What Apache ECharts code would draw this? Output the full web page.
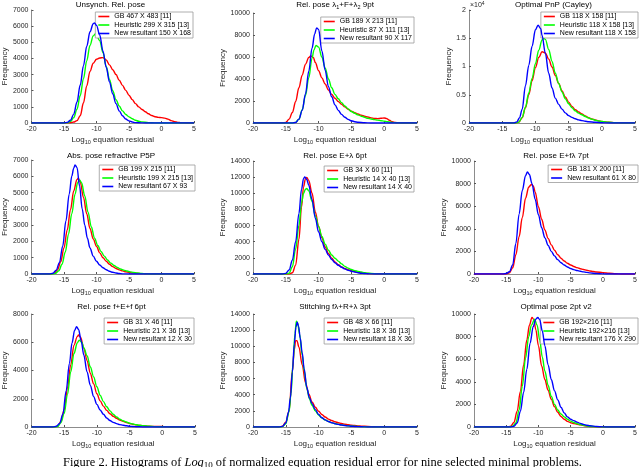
<!DOCTYPE html>
<html>
<head>
<meta charset="utf-8">
<script src="https://cdn.jsdelivr.net/npm/echarts@6/dist/echarts.min.js"></script>
<style>html,body{margin:0;padding:0;background:#fff;}#c{width:640px;height:467px;}</style>
</head>
<body>
<div id="c"></div>
<script>
// ---------- DATA ----------
const xTickValues = [-20, -15, -10, -5, 0, 5];
const plotTitles = [
  '{t|Unsynch. Rel. pose}',
  '{t|Rel. pose λ}{s|1}{t|+F+λ}{s|2}{t| 9pt}',
  '{t|Optimal PnP (Cayley)}',
  '{t|Abs. pose refractive P5P}',
  '{t|Rel. pose E+λ 6pt}',
  '{t|Rel. pose E+fλ 7pt}',
  '{t|Rel. pose f+E+f 6pt}',
  '{t|Stitching fλ+R+λ 3pt}',
  '{t|Optimal pose 2pt v2}'
];
const yMax = [7000, 10000, 20000, 7000, 14000, 10000, 8000, 14000, 10000];
const yStep = [1000, 2000, 5000, 1000, 2000, 2000, 2000, 2000, 2000];

const names1 = ['GB 467 X 483 [11]', 'Heuristic 299 X 315 [13]', 'New resultant 150 X 168'];
const names2 = ['GB 189 X 213 [11]', 'Heuristic 87 X 111 [13]', 'New resultant 90 X 117'];
const names3 = ['GB 118 X 158 [11]', 'Heuristic 118 X 158 [13]', 'New resultant 118 X 158'];
const names4 = ['GB 199 X 215 [11]', 'Heuristic 199 X 215 [13]', 'New resultant 67 X 93'];
const names5 = ['GB 34 X 60 [11]', 'Heuristic 14 X 40 [13]', 'New resultant 14 X 40'];
const names6 = ['GB 181 X 200 [11]', 'New resultant 61 X 80'];
const names7 = ['GB 31 X 46 [11]', 'Heuristic 21 X 36 [13]', 'New resultant 12 X 30'];
const names8 = ['GB 48 X 66 [11]', 'Heuristic 18 X 36 [13]', 'New resultant 18 X 36'];
const names9 = ['GB 192×216 [11]', 'Heuristic 192×216 [13]', 'New resultant 176 X 290'];

const p1_gb = [[-20,0],[-15,0],[-14,20],[-13.5,60],[-13,150],[-12.5,450],[-12,1250],[-11.5,2300],[-11,3200],[-10.5,3700],[-10,3950],[-9.5,4030],[-9,4050],[-8.5,3900],[-8,3600],[-7.5,3300],[-7,3000],[-6.5,2650],[-6,2330],[-5.5,2020],[-5,1720],[-4.5,1450],[-4,1200],[-3.5,1000],[-3,840],[-2.5,700],[-2,570],[-1.5,460],[-1,390],[-0.5,350],[0,330],[0.5,300],[1,240],[1.5,150],[2,80],[2.5,40],[3,15],[3.5,5],[4,0],[5,0]];
const p1_heur = [[-20,0],[-15,0],[-14.5,20],[-14,100],[-13.5,330],[-13,850],[-12.5,1700],[-12,2750],[-11.5,3850],[-11,4800],[-10.5,5400],[-10.1,5550],[-9.5,5100],[-9,4350],[-8.5,3500],[-8,2700],[-7.5,2000],[-7,1450],[-6.5,1050],[-6,750],[-5.5,530],[-5,380],[-4.5,260],[-4,170],[-3.5,110],[-3,70],[-2,25],[-1,5],[0,0],[5,0]];
const p1_new = [[-20,0],[-15,0],[-14.5,40],[-14,170],[-13.5,550],[-13,1300],[-12.5,2350],[-12,3550],[-11.5,4750],[-11,5650],[-10.5,6150],[-10.3,6200],[-10,6050],[-9.5,5450],[-9,4450],[-8.5,3450],[-8,2550],[-7.5,1800],[-7,1200],[-6.5,750],[-6,450],[-5.5,250],[-5,130],[-4.5,60],[-4,25],[-3,5],[-2,0],[5,0]];

const p2_gb = [[-20,0],[-15.5,0],[-15,40],[-14.5,350],[-14,950],[-13.5,1950],[-13,3200],[-12.5,4350],[-12,5350],[-11.5,5950],[-11.2,6100],[-10.8,5950],[-10.5,5500],[-10,4750],[-9.5,4100],[-9,3550],[-8.5,3000],[-8,2600],[-7.5,2250],[-7,1950],[-6.5,1700],[-6,1470],[-5.5,1250],[-5,1070],[-4.5,940],[-4,820],[-3.5,710],[-3,620],[-2.5,540],[-2,470],[-1.5,420],[-1,400],[-0.5,430],[0,460],[0.4,400],[0.8,250],[1.2,120],[1.7,40],[2.2,10],[3,0],[5,0]];
const p2_heur = [[-20,0],[-14,0],[-13.5,60],[-13,350],[-12.5,1200],[-12,2500],[-11.5,4100],[-11,5900],[-10.7,6650],[-10.4,7050],[-10,6900],[-9.5,6000],[-9,5000],[-8.5,4000],[-8,3200],[-7.5,2600],[-7,2200],[-6.5,1850],[-6,1550],[-5.5,1280],[-5,1050],[-4.5,880],[-4,740],[-3.5,620],[-3,520],[-2.5,430],[-2,370],[-1.5,310],[-1,260],[-0.5,210],[0,170],[0.5,120],[1,70],[1.5,35],[2,10],[3,0],[5,0]];
const p2_new = [[-20,0],[-14,0],[-13.5,40],[-13,350],[-12.5,1150],[-12,2650],[-11.5,4700],[-11,6800],[-10.6,8100],[-10.3,8650],[-10,8500],[-9.5,6550],[-9,4800],[-8.5,3300],[-8,2380],[-7.5,1650],[-7,1150],[-6.5,780],[-6,520],[-5.5,330],[-5,200],[-4.5,120],[-4,70],[-3,25],[-2,5],[-1,0],[5,0]];

const p3_gb = [[-20,0],[-13,0],[-12.5,150],[-12,900],[-11.5,2700],[-11,5000],[-10.5,7500],[-10,9800],[-9.5,11600],[-9,12600],[-8.5,12400],[-8,11300],[-7.5,9900],[-7,8400],[-6.5,7000],[-6,5700],[-5.5,4600],[-5,3700],[-4.5,2950],[-4,2350],[-3.5,1950],[-3,1600],[-2.5,1250],[-2,950],[-1.5,720],[-1,530],[-0.5,380],[0,280],[1,130],[2,50],[3,10],[4,0],[5,0]];
const p3_heur = [[-20,0],[-13,0],[-12.5,150],[-12,1000],[-11.5,2800],[-11,5300],[-10.5,7900],[-10,10500],[-9.5,12900],[-9,14700],[-8.8,15000],[-8.5,14800],[-8,13000],[-7.5,10900],[-7,8800],[-6.5,7000],[-6,5500],[-5.5,4300],[-5,3400],[-4.5,2700],[-4,2150],[-3.5,1750],[-3,1450],[-2.5,1150],[-2,880],[-1.5,680],[-1,500],[-0.5,360],[0,260],[1,120],[2,50],[3,10],[4,0],[5,0]];
const p3_new = [[-20,0],[-13.2,0],[-12.8,200],[-12.4,900],[-12,2400],[-11.5,6600],[-11,10200],[-10.5,13600],[-10,16500],[-9.6,17300],[-9.2,16700],[-9,15500],[-8.5,12300],[-8,8800],[-7.5,6200],[-7,4400],[-6.5,3300],[-6,2450],[-5.5,1800],[-5,1300],[-4.5,1000],[-4,750],[-3.5,560],[-3,420],[-2.5,320],[-2,230],[-1,120],[0,50],[1,10],[2,0],[5,0]];

const p4_gb = [[-20,0],[-17,0],[-16.5,40],[-16,250],[-15.5,750],[-15,1600],[-14.5,2700],[-14,3950],[-13.5,5100],[-13,5800],[-12.8,5880],[-12.5,5650],[-12,4700],[-11.5,3700],[-11,2800],[-10.5,2150],[-10,1700],[-9.5,1300],[-9,1000],[-8.5,780],[-8,600],[-7.5,450],[-7,340],[-6.5,255],[-6,190],[-5.5,135],[-5,95],[-4.5,65],[-4,45],[-3,20],[-2,5],[-1,0],[5,0]];
const p4_heur = [[-20,0],[-16.8,0],[-16.3,40],[-15.8,200],[-15.3,600],[-14.8,1350],[-14.3,2450],[-13.8,3700],[-13.3,4900],[-12.9,5600],[-12.6,5780],[-12.3,5600],[-11.8,4800],[-11.3,3800],[-10.8,2900],[-10.3,2200],[-9.8,1750],[-9.3,1380],[-8.8,1100],[-8.3,860],[-7.8,670],[-7.3,520],[-6.8,400],[-6.3,310],[-5.8,240],[-5.3,180],[-4.8,130],[-4.3,95],[-3.8,65],[-3,30],[-2.5,10],[-2,0],[5,0]];
const p4_new = [[-20,0],[-17.2,0],[-16.7,50],[-16.2,230],[-15.7,700],[-15.2,1700],[-14.7,3250],[-14.2,4900],[-13.8,6000],[-13.5,6500],[-13.3,6690],[-13,6550],[-12.6,5400],[-12.2,4000],[-11.8,3000],[-11.4,2200],[-11,1600],[-10.5,1100],[-10,780],[-9.5,550],[-9,380],[-8.5,260],[-8,170],[-7.5,105],[-7,60],[-6.5,30],[-6,10],[-5,0],[5,0]];

const p5_gb = [[-20,0],[-14.5,0],[-14,150],[-13.5,1100],[-13,4300],[-12.6,8300],[-12.3,10800],[-12,11800],[-11.8,11950],[-11.5,11600],[-11,10000],[-10.5,7700],[-10,5900],[-9.5,4500],[-9,3350],[-8.5,2550],[-8,1950],[-7.5,1500],[-7,1150],[-6.5,880],[-6,680],[-5.5,520],[-5,400],[-4.5,300],[-4,220],[-3.5,150],[-3,100],[-2.5,60],[-2,30],[-1,5],[0,0],[5,0]];
const p5_heur = [[-20,0],[-15,0],[-14.5,100],[-14,900],[-13.5,3100],[-13,6000],[-12.6,8800],[-12.3,10000],[-12,10500],[-11.8,10590],[-11.5,10300],[-11,9000],[-10.5,7200],[-10,5900],[-9.5,4650],[-9,3700],[-8.5,2950],[-8,2350],[-7.5,1950],[-7,1600],[-6.5,1250],[-6,950],[-5.5,730],[-5,550],[-4.5,420],[-4,320],[-3.5,240],[-3,170],[-2.5,110],[-2,70],[-1,20],[0,0],[5,0]];
const p5_new = [[-20,0],[-15.5,0],[-15,80],[-14.5,500],[-14,1700],[-13.5,4000],[-13,7500],[-12.6,10500],[-12.3,11800],[-12.1,12030],[-11.8,11700],[-11.5,11000],[-11,9200],[-10.5,6900],[-10,5200],[-9.5,4000],[-9,3050],[-8.5,2350],[-8,1800],[-7.5,1400],[-7,1080],[-6.5,830],[-6,630],[-5.5,470],[-5,340],[-4.5,240],[-4,160],[-3.5,100],[-3,60],[-2.5,30],[-2,10],[-1,0],[5,0]];

const p6_gb = [[-20,0],[-15,0],[-14.5,100],[-14,550],[-13.5,1700],[-13,3300],[-12.5,5000],[-12,6700],[-11.5,7700],[-11.1,7920],[-10.8,7800],[-10.5,7250],[-10,5950],[-9.5,4850],[-9,3900],[-8.5,3150],[-8,2580],[-7.5,2100],[-7,1700],[-6.5,1400],[-6,1150],[-5.5,950],[-5,800],[-4.5,670],[-4,560],[-3.5,470],[-3,400],[-2.5,330],[-2,270],[-1.5,220],[-1,180],[0,120],[1,65],[2,25],[3,5],[4,0],[5,0]];
const p6_new = [[-20,0],[-15.5,0],[-15,40],[-14.5,200],[-14,800],[-13.5,2700],[-13,5300],[-12.5,7400],[-12,8700],[-11.7,9030],[-11.4,8800],[-11,8000],[-10.5,6600],[-10,5250],[-9.5,4100],[-9,3200],[-8.5,2550],[-8,2000],[-7.5,1600],[-7,1270],[-6.5,1000],[-6,790],[-5.5,620],[-5,490],[-4.5,390],[-4,310],[-3.5,240],[-3,190],[-2.5,140],[-2,100],[-1,40],[0,10],[1,0],[5,0]];

const p7_gb = [[-20,0],[-16.5,0],[-16,60],[-15.5,400],[-15,1200],[-14.5,2750],[-14,4400],[-13.5,5800],[-13,6400],[-12.8,6510],[-12.5,6350],[-12,5600],[-11.5,4700],[-11,3800],[-10.5,3050],[-10,2350],[-9.5,1850],[-9,1480],[-8.5,1180],[-8,940],[-7.5,760],[-7,620],[-6.5,500],[-6,400],[-5.5,320],[-5,250],[-4.5,190],[-4,150],[-3.5,115],[-3,90],[-2,55],[-1,40],[0,35],[0.5,20],[1,5],[2,0],[5,0]];
const p7_heur = [[-20,0],[-16.5,0],[-16,40],[-15.5,300],[-15,950],[-14.5,2300],[-14,3900],[-13.5,5200],[-13,5950],[-12.7,6150],[-12.3,6000],[-12,5600],[-11.5,5050],[-11,4250],[-10.5,3550],[-10,2850],[-9.5,2250],[-9,1800],[-8.5,1430],[-8,1140],[-7.5,900],[-7,710],[-6.5,560],[-6,440],[-5.5,350],[-5,270],[-4.5,210],[-4,160],[-3.5,125],[-3,95],[-2,55],[-1,30],[0,15],[1,5],[2,0],[5,0]];
const p7_new = [[-20,0],[-16.7,0],[-16.2,50],[-15.7,250],[-15.2,900],[-14.7,2550],[-14.2,4500],[-13.8,5950],[-13.4,6850],[-13.1,7100],[-12.8,6900],[-12.4,6100],[-12,5100],[-11.5,3900],[-11,2950],[-10.5,2150],[-10,1600],[-9.5,1200],[-9,900],[-8.5,640],[-8,460],[-7.5,330],[-7,240],[-6.5,170],[-6,120],[-5.5,85],[-5,55],[-4.5,35],[-4,20],[-3,5],[-2,0],[5,0]];

const p8_gb = [[-20,0],[-16,0],[-15.5,100],[-15,600],[-14.5,2000],[-14,6900],[-13.7,9600],[-13.5,10700],[-13.3,10700],[-13,9900],[-12.5,7700],[-12,5500],[-11.5,4100],[-11,3100],[-10.5,2450],[-10,1950],[-9.5,1550],[-9,1230],[-8.5,980],[-8,800],[-7.5,650],[-7,530],[-6.5,430],[-6,350],[-5.5,285],[-5,230],[-4.5,180],[-4,140],[-3.5,110],[-3,85],[-2,45],[-1,20],[0,5],[1,0],[5,0]];
const p8_heur = [[-20,0],[-16,0],[-15.5,50],[-15,400],[-14.5,1900],[-14.2,4200],[-13.9,7900],[-13.6,11600],[-13.4,13100],[-13.2,12900],[-12.9,11500],[-12.5,8900],[-12.2,7000],[-11.8,4800],[-11.4,3500],[-11,2700],[-10.5,2000],[-10,1480],[-9.5,1130],[-9,880],[-8.5,690],[-8,540],[-7.5,420],[-7,330],[-6.5,260],[-6,200],[-5.5,155],[-5,120],[-4.5,90],[-4,65],[-3,30],[-2,10],[-1,0],[5,0]];
const p8_new = [[-20,0],[-16,0],[-15.5,80],[-15,500],[-14.6,1800],[-14.3,3600],[-14,6800],[-13.7,10300],[-13.45,12400],[-13.27,12970],[-13.05,12500],[-12.8,11000],[-12.5,9200],[-12.2,7200],[-11.8,4900],[-11.4,3600],[-11,2900],[-10.5,2150],[-10,1550],[-9.5,1150],[-9,880],[-8.5,680],[-8,530],[-7.5,410],[-7,320],[-6.5,245],[-6,185],[-5.5,140],[-5,100],[-4.5,70],[-4,45],[-3,15],[-2,0],[5,0]];

const p9_gb = [[-20,0],[-14.8,0],[-14.3,80],[-13.8,400],[-13.3,1400],[-12.8,3150],[-12.3,5500],[-11.8,7700],[-11.4,9000],[-11,9700],[-10.7,9500],[-10.4,8600],[-10,7200],[-9.5,5400],[-9,4200],[-8.5,3250],[-8,2450],[-7.5,1800],[-7,1300],[-6.5,930],[-6,680],[-5.5,500],[-5,380],[-4.5,300],[-4,240],[-3.5,190],[-3,130],[-2,50],[-1,10],[0,0],[5,0]];
const p9_heur = [[-20,0],[-14.5,0],[-14,60],[-13.5,350],[-13,1500],[-12.5,3600],[-12,6100],[-11.5,8000],[-11.1,9000],[-10.6,9530],[-10.2,9000],[-9.8,7700],[-9.4,6200],[-9,4950],[-8.5,3700],[-8,2700],[-7.5,2000],[-7,1500],[-6.5,1150],[-6,900],[-5.5,680],[-5,520],[-4.5,400],[-4,300],[-3.5,220],[-3,160],[-2,70],[-1,20],[0,5],[1,0],[5,0]];
const p9_new = [[-20,0],[-14.3,0],[-13.8,60],[-13.3,350],[-12.8,1400],[-12.3,3050],[-11.8,5100],[-11.3,7400],[-10.8,8900],[-10.4,9550],[-10.1,9700],[-9.8,9500],[-9.4,8500],[-9,7200],[-8.5,5500],[-8,4200],[-7.5,3200],[-7,2400],[-6.5,1750],[-6,1250],[-5.5,900],[-5,680],[-4.5,560],[-4,430],[-3.5,320],[-3,230],[-2.5,160],[-2,110],[-1,40],[0,10],[1,0],[5,0]];

// ---------- LAYOUT ----------
const seriesSets = [
  [p1_gb, p1_heur, p1_new], [p2_gb, p2_heur, p2_new], [p3_gb, p3_heur, p3_new],
  [p4_gb, p4_heur, p4_new], [p5_gb, p5_heur, p5_new], [p6_gb, p6_new],
  [p7_gb, p7_heur, p7_new], [p8_gb, p8_heur, p8_new], [p9_gb, p9_heur, p9_new]
];
const nameSets = [names1, names2, names3, names4, names5, names6, names7, names8, names9];
const colorSets = [
  ['#ff0000','#00ff00','#0000ff'],['#ff0000','#00ff00','#0000ff'],['#ff0000','#00ff00','#0000ff'],
  ['#ff0000','#00ff00','#0000ff'],['#ff0000','#00ff00','#0000ff'],['#ff0000','#0000ff'],
  ['#ff0000','#00ff00','#0000ff'],['#ff0000','#00ff00','#0000ff'],['#ff0000','#00ff00','#0000ff']
];
const grids = [
  {left:27, top:10, width:167, height:113},
  {left:253, top:13, width:164, height:110},
  {left:469, top:10, width:169, height:113},
  {left:28, top:160, width:166, height:114},
  {left:253, top:161, width:164, height:113},
  {left:474, top:161, width:164, height:113},
  {left:28, top:314, width:167, height:113},
  {left:253, top:314, width:164, height:113},
  {left:474, top:314, width:164, height:113}
];
const yNameGap = [19, 24, 14, 21, 24, 23, 21, 24, 23];
const legendPos = [
  {right:447, top:12},{right:226, top:17},{right:2, top:12},
  {right:445, top:165},{right:226, top:166},{right:2, top:165},
  {right:446, top:318},{right:226, top:318},{right:2, top:318}
];
const titleTops = [0, 0, 0, 151, 151, 151, 302, 302, 302];

const FONT = '"Liberation Sans", Arial, sans-serif';
const SERIF = '"Liberation Serif", "Times New Roman", serif';
const axisColor = '#262626';

const option = {
  animation: false,
  backgroundColor: '#ffffff',
  grid: grids.map(g => Object.assign({containLabel: false}, g)),
  title: plotTitles.map((t, i) => ({
    text: t,
    left: grids[i].left + grids[i].width / 2,
    top: titleTops[i],
    textAlign: 'center',
    padding: 0,
    textStyle: {
      fontWeight: 'normal',
      rich: {
        t: {fontSize: 8, fontFamily: FONT, fontWeight: 'normal', color: '#000', lineHeight: 10},
        s: {fontSize: 5.5, fontFamily: FONT, fontWeight: 'normal', color: '#000', padding: [4, 0, 0, 0]}
      }
    }
  })),
  xAxis: grids.map((g, i) => ({
    gridIndex: i, type: 'value', min: -20, max: 5, interval: 5,
    name: '{a|Log}{s|10}{a| equation residual}',
    nameLocation: 'middle', nameGap: 11,
    nameTextStyle: {
      rich: {
        a: {fontSize: 8, fontFamily: FONT, color: axisColor},
        s: {fontSize: 5.5, fontFamily: FONT, color: axisColor, padding: [5, 0, 0, 0]}
      }
    },
    axisLine: {show: true, onZero: false, lineStyle: {color: '#8c8c8c', width: 1}},
    axisTick: {show: true, inside: true, length: 2, lineStyle: {color: '#555'}},
    splitLine: {show: false},
    axisLabel: {fontSize: 7, fontFamily: FONT, color: axisColor, margin: 3}
  })),
  yAxis: grids.map((g, i) => ({
    gridIndex: i, type: 'value', min: 0, max: yMax[i], interval: yStep[i],
    name: 'Frequency', nameLocation: 'middle', nameGap: yNameGap[i],
    nameTextStyle: {fontSize: 8, fontFamily: FONT, color: axisColor},
    axisLine: {show: true, onZero: false, lineStyle: {color: '#8c8c8c', width: 1}},
    axisTick: {show: true, inside: true, length: 2, lineStyle: {color: '#555'}},
    splitLine: {show: false},
    axisLabel: {fontSize: 7, fontFamily: FONT, color: axisColor, margin: 3,
      formatter: i === 2 ? (v => String(v / 10000)) : (v => String(v))}
  })),
  legend: nameSets.map((ns, i) => Object.assign({
    data: ns.map((n, k) => ({name: n, icon: 'rect', itemStyle: {color: colorSets[i][k]}})),
    orient: 'vertical',
    itemWidth: 11, itemHeight: 1.6, itemGap: 1.5,
    padding: [1, 2, 1, 3],
    backgroundColor: '#ffffff', borderColor: '#9a9a9a', borderWidth: 0.8,
    textStyle: {fontSize: 7, fontFamily: FONT, color: '#000', lineHeight: 7},
    selectedMode: false
  }, legendPos[i])),
  series: [],
  graphic: [
    {type: 'text', left: 470, top: 1,
      style: {text: '×10{p|4}', fontSize: 7, fontFamily: FONT, fill: axisColor,
        rich: {p: {fontSize: 5, fontFamily: FONT, fill: axisColor, padding: [0, 0, 4, 0]}}}},
    {type: 'text', left: 63, top: 457,
      style: {
        text: '{n|Figure 2. Histograms of }{i|Log}{u|10}{n| of normalized equation residual error for nine selected minimal problems.}',
        rich: {
          n: {fontSize: 12.4, fontFamily: SERIF, fill: '#000'},
          i: {fontSize: 12.4, fontStyle: 'italic', fontFamily: SERIF, fill: '#000'},
          u: {fontSize: 9, fontFamily: SERIF, fill: '#000', padding: [5, 0, 0, 0]}
        }
      }}
  ]
};

seriesSets.forEach((set, gi) => {
  set.forEach((data, si) => {
    option.series.push({
      type: 'line', name: nameSets[gi][si],
      xAxisIndex: gi, yAxisIndex: gi,
      data: data, showSymbol: false, symbol: 'none',
      smooth: 0.35, smoothMonotone: 'x',
      lineStyle: {color: colorSets[gi][si], width: 1.4},
      itemStyle: {color: colorSets[gi][si]},
      z: 2 + si
    });
  });
});

const chart = echarts.init(document.getElementById('c'), null, {renderer: 'canvas'});
chart.setOption(option);
</script>
</body>
</html>
